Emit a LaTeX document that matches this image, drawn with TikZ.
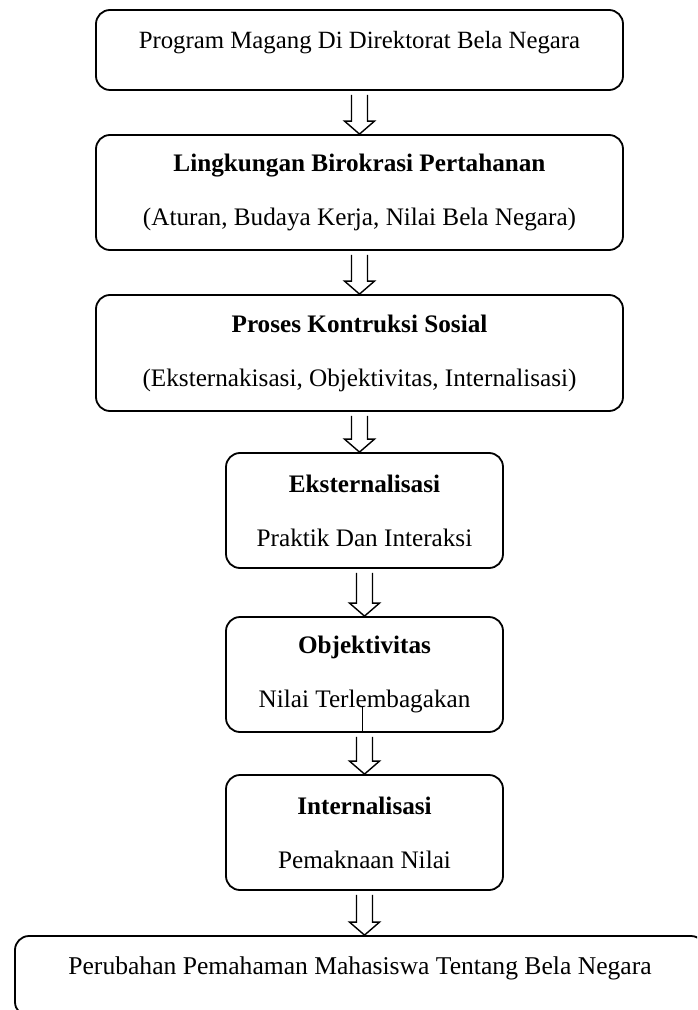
\documentclass[tikz,border=0pt]{standalone}
\usepackage{fontspec}
\setmainfont{Liberation Serif}
\usetikzlibrary{calc}
\tikzset{box/.style={draw, line width=0.9pt, rounded corners=7pt, align=center,
        font=\fontsize{12.6}{27}\selectfont},
    widebox/.style={box, minimum width=263.5pt},
    smallbox/.style={box, minimum width=138.5pt, minimum height=57.5pt},
    onerow/.style={text height=9pt, text depth=10.8pt},
    hollow arrow/.style={line width=0.7pt, line join=miter,
        to path={let \p1=(\tikztostart), \p2=(\tikztotarget) in
            (\x1-4pt,\y1-2pt) -- (\x1-4pt,\y2+6.5pt) -- (\x1-7.5pt,\y2+6.5pt) -- (\x1,\y2)
            -- (\x1+7.5pt,\y2+6.5pt) -- (\x1+4pt,\y2+6.5pt) -- (\x1+4pt,\y1-2pt)}}}

\begin{document}
\begin{tikzpicture}[x=0.5pt,y=-0.5pt]
    \useasboundingbox (0,0) rectangle (697,1010);
    \clip (0,0) rectangle (697,1010);
    % kotak alur
    \node[widebox, onerow, minimum height=40pt, font=\fontsize{12.4}{27}\selectfont] (magang) at (359.5,50)
        {Program Magang Di Direktorat Bela Negara};
    \node[widebox, minimum height=57.5pt] (birokrasi) at (359.5,192.5)
        {\textbf{Lingkungan Birokrasi Pertahanan}\\(Aturan, Budaya Kerja, Nilai Bela Negara)};
    \node[widebox, minimum height=58pt] (konstruksi) at (359.5,353)
        {\textbf{Proses Kontruksi Sosial}\\(Eksternakisasi, Objektivitas, Internalisasi)};
    \node[smallbox] (eksternal) at (364.5,510.5) {\textbf{Eksternalisasi}\\Praktik Dan Interaksi};
    \node[smallbox] (objektif) at (364.5,674.5) {\textbf{Objektivitas}\\Nilai Terlembagakan};
    \node[smallbox] (internal) at (364.5,832.5) {\textbf{Internalisasi}\\Pemaknaan Nilai};
    \node[box, onerow, minimum width=345pt, minimum height=40pt, font=\fontsize{12.8}{27}\selectfont] (perubahan) at (360,976)
        {Perubahan Pemahaman Mahasiswa Tentang Bela Negara};
    % panah
    \foreach \a/\b in {magang/birokrasi, birokrasi/konstruksi, konstruksi/eksternal,
        eksternal/objektif, objektif/internal, internal/perubahan}
        \draw[hollow arrow] (\a.south) to (\b.north);
    \coordinate (garis) at (362,707);
    \draw[line width=0.5pt] (garis) -- (garis |- objektif.south);
\end{tikzpicture}
\end{document}
